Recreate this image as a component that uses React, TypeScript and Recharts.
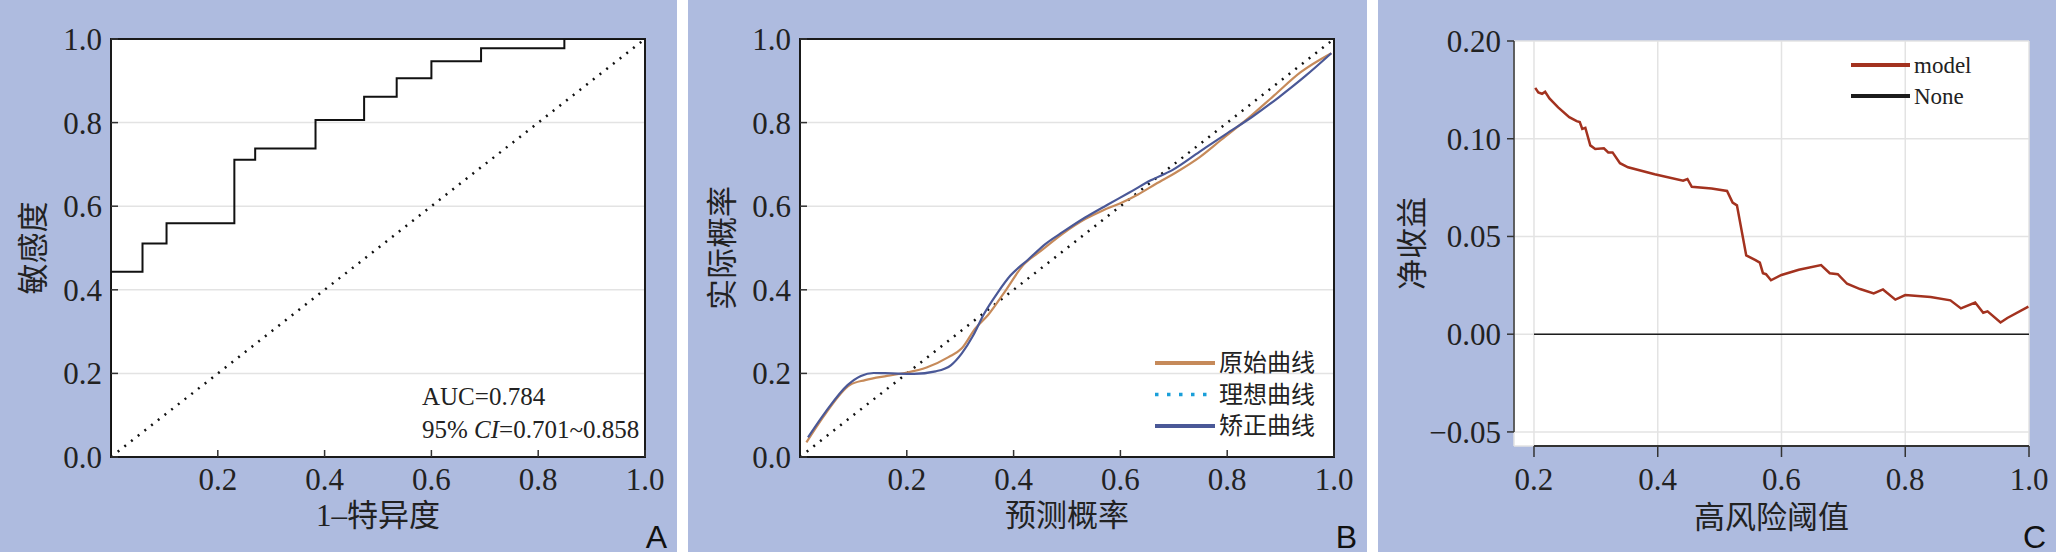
import React from "react";
import {
  CartesianGrid,
  Label,
  Legend,
  Line,
  LineChart,
  ReferenceArea,
  ReferenceLine,
  XAxis,
  YAxis,
} from "recharts";

const BG = "#aebbdf";
const GRID = "#e3e3e3";
const INK = "#222";
const SERIF = '"Liberation Serif", "Times New Roman", "Noto Sans CJK SC", serif';
const CJK = '"Liberation Serif", "Noto Sans CJK SC", sans-serif';
const SANS = '"Liberation Sans", Arial, sans-serif';

// A: ROC curve
const rocFpr = [0, 0, 0.059, 0.104, 0.231, 0.27, 0.383, 0.474, 0.535, 0.6, 0.693, 0.849, 1.0];
const rocTpr = [0, 0.443, 0.511, 0.559, 0.711, 0.738, 0.806, 0.862, 0.906, 0.947, 0.978, 1.0, 1.0];
const diagX = [0, 1];
const diagY = [0, 1];
const unitYTicks = [0, 0.2, 0.4, 0.6, 0.8, 1.0];
const unitXTicks = [0.2, 0.4, 0.6, 0.8, 1.0];

// B: calibration curves
const rawX = [0.012, 0.048, 0.093, 0.122, 0.163, 0.196, 0.237, 0.278, 0.303, 0.328, 0.353, 0.386, 0.418, 0.451, 0.493, 0.534, 0.567, 0.6, 0.633, 0.666, 0.707, 0.748, 0.789, 0.839, 0.888, 0.937, 0.995];
const rawY = [0.035, 0.104, 0.172, 0.184, 0.194, 0.201, 0.214, 0.239, 0.26, 0.307, 0.341, 0.4, 0.459, 0.493, 0.535, 0.569, 0.59, 0.607, 0.628, 0.653, 0.683, 0.717, 0.759, 0.81, 0.865, 0.92, 0.966];
const corrX = [0.015, 0.048, 0.089, 0.114, 0.138, 0.171, 0.213, 0.254, 0.283, 0.303, 0.324, 0.344, 0.369, 0.394, 0.427, 0.46, 0.493, 0.534, 0.575, 0.616, 0.657, 0.698, 0.748, 0.797, 0.847, 0.896, 0.946, 0.995];
const corrY = [0.047, 0.108, 0.172, 0.194, 0.201, 0.2, 0.199, 0.205, 0.22, 0.248, 0.29, 0.341, 0.391, 0.434, 0.472, 0.51, 0.539, 0.573, 0.603, 0.632, 0.662, 0.687, 0.73, 0.772, 0.814, 0.86, 0.911, 0.966];
const calLegend = ["原始曲线", "理想曲线", "矫正曲线"];
const calColors = ["#c68a5a", "#1a9fd9", "#4a5897"];

// C: decision curve
const dcaThreshold = [0.202, 0.207, 0.213, 0.218, 0.225, 0.239, 0.257, 0.269, 0.274, 0.278, 0.283, 0.291, 0.299, 0.313, 0.32, 0.327, 0.339, 0.352, 0.395, 0.441, 0.448, 0.455, 0.487, 0.512, 0.521, 0.528, 0.543, 0.558, 0.565, 0.57, 0.575, 0.583, 0.6, 0.628, 0.664, 0.678, 0.691, 0.706, 0.727, 0.749, 0.764, 0.784, 0.8, 0.841, 0.873, 0.89, 0.913, 0.926, 0.933, 0.954, 0.965, 0.999];
const dcaModel = [0.126, 0.1237, 0.123, 0.124, 0.1206, 0.116, 0.111, 0.109, 0.1085, 0.105, 0.1056, 0.0966, 0.0948, 0.0951, 0.093, 0.093, 0.0875, 0.0854, 0.0818, 0.0785, 0.0794, 0.0754, 0.0745, 0.0733, 0.0673, 0.0659, 0.0403, 0.0379, 0.0366, 0.0312, 0.0307, 0.0276, 0.0303, 0.033, 0.0354, 0.0312, 0.0307, 0.0258, 0.0231, 0.0209, 0.0229, 0.0177, 0.02, 0.019, 0.0173, 0.0132, 0.0162, 0.011, 0.0117, 0.006, 0.0083, 0.0141];
const dcaNoneX = [0.2, 1.0];
const dcaNoneY = [0, 0];
const dcaXTicks = [0.2, 0.4, 0.6, 0.8, 1.0];
const dcaYTicks = [-0.05, 0, 0.05, 0.1, 0.15];
const dcaYTickLabels = ["\u22120.05", "0.00", "0.05", "0.10", "0.20"];
const dcaXDomain = [0.1677, 1.0];
const dcaYDomain = [-0.0572, 0.15];
const dcaLegend = ["model", "None"];
const dcaColors = ["#a3321f", "#1c1c1c"];

const zip = (xs: number[], ys: number[]) => xs.map((x, i) => ({ x, y: ys[i] }));
const fmt1 = (v: number) => v.toFixed(1);

const tickStyle = { fill: INK, fontSize: 31, fontFamily: SERIF };
const tickLine = { stroke: "#333", strokeWidth: 1.5 };

const xTitle = (text: string, y: number) => (props: any) => {
  const vb = props.viewBox;
  return (
    <text x={vb.x + vb.width / 2} y={y} textAnchor="middle" dominantBaseline="central" fill={INK} style={{ fontFamily: CJK, fontSize: 31 }}>
      {text}
    </text>
  );
};

const yTitle = (text: string, x: number) => (props: any) => {
  const vb = props.viewBox;
  const cy = vb.y + vb.height / 2;
  return (
    <text x={x} y={cy} transform={`rotate(-90 ${x} ${cy})`} textAnchor="middle" dominantBaseline="central" fill={INK} style={{ fontFamily: CJK, fontSize: 31 }}>
      {text}
    </text>
  );
};

function Panel({ left, width, letter, children }: { left: number; width: number; letter: string; children: React.ReactNode }) {
  return (
    <div style={{ position: "absolute", left, top: 0, width, height: 552, background: BG }}>
      {children}
      <div style={{ position: "absolute", right: 10, top: 521, fontFamily: SANS, fontSize: 32, lineHeight: "32px", color: "#111" }}>{letter}</div>
    </div>
  );
}

function PanelA() {
  return (
    <Panel left={0} width={677} letter="A">
      <LineChart width={677} height={552} margin={{ top: 39, right: 32, bottom: 35, left: 31 }}>
        <CartesianGrid fill="#fff" stroke={GRID} strokeWidth={1.5} vertical={false} />
        <XAxis type="number" dataKey="x" domain={[0, 1]} ticks={unitXTicks} tickFormatter={fmt1} height={60} tickSize={-7} tickMargin={18} axisLine={false} tickLine={tickLine} tick={tickStyle} allowDataOverflow>
          <Label content={xTitle("1\u2013特异度", 515)} />
        </XAxis>
        <YAxis type="number" dataKey="y" domain={[0, 1]} ticks={unitYTicks} tickFormatter={fmt1} width={80} tickSize={-7} tickMargin={16} axisLine={false} tickLine={tickLine} tick={tickStyle} allowDataOverflow>
          <Label content={yTitle("敏感度", 33)} />
        </YAxis>
        <ReferenceArea x1={0} x2={1} y1={0} y2={1} fill="none" fillOpacity={0} stroke="#1a1a1a" strokeWidth={2} ifOverflow="visible" />
        <Line data={zip(diagX, diagY)} dataKey="y" type="linear" stroke="#111" strokeWidth={2.5} strokeDasharray="2 6.5" dot={false} isAnimationActive={false} />
        <Line data={zip(rocFpr, rocTpr)} dataKey="y" type="stepAfter" stroke="#111" strokeWidth={2} dot={false} isAnimationActive={false} />
      </LineChart>
      <div style={{ position: "absolute", left: 422, top: 380, fontFamily: SERIF, fontSize: 25, lineHeight: "33px", color: INK, whiteSpace: "nowrap" }}>
        <div>AUC=0.784</div>
        <div>
          95% <i>CI</i>=0.701~0.858
        </div>
      </div>
    </Panel>
  );
}

function CalLegend() {
  return (
    <svg width={180} height={100}>
      {calLegend.map((name, i) => {
        const y = 16 + i * 31.5;
        return (
          <g key={name}>
            <line x1={0} x2={60} y1={y} y2={y} stroke={calColors[i]} strokeWidth={i === 1 ? 3.5 : 4} strokeDasharray={i === 1 ? "3.5 8.5" : undefined} />
            <text x={64} y={y} dominantBaseline="central" fill={INK} style={{ fontFamily: CJK, fontSize: 24 }}>
              {name}
            </text>
          </g>
        );
      })}
    </svg>
  );
}

function PanelB() {
  return (
    <Panel left={688} width={679} letter="B">
      <LineChart width={679} height={552} margin={{ top: 39, right: 33, bottom: 35, left: 32 }}>
        <CartesianGrid fill="#fff" stroke={GRID} strokeWidth={1.5} vertical={false} />
        <XAxis type="number" dataKey="x" domain={[0, 1]} ticks={unitXTicks} tickFormatter={fmt1} height={60} tickSize={-7} tickMargin={18} axisLine={false} tickLine={tickLine} tick={tickStyle} allowDataOverflow>
          <Label content={xTitle("预测概率", 515)} />
        </XAxis>
        <YAxis type="number" dataKey="y" domain={[0, 1]} ticks={unitYTicks} tickFormatter={fmt1} width={80} tickSize={-7} tickMargin={16} axisLine={false} tickLine={tickLine} tick={tickStyle} allowDataOverflow>
          <Label content={yTitle("实际概率", 34)} />
        </YAxis>
        <ReferenceArea x1={0} x2={1} y1={0} y2={1} fill="none" fillOpacity={0} stroke="#1a1a1a" strokeWidth={2} ifOverflow="visible" />
        <Line data={zip(diagX, diagY)} dataKey="y" type="linear" stroke="#111" strokeWidth={2.5} strokeDasharray="2 6.5" dot={false} isAnimationActive={false} />
        <Line data={zip(rawX, rawY)} dataKey="y" type="monotone" stroke={calColors[0]} strokeWidth={2.2} dot={false} isAnimationActive={false} />
        <Line data={zip(corrX, corrY)} dataKey="y" type="monotone" stroke={calColors[2]} strokeWidth={2.2} dot={false} isAnimationActive={false} />
        <Legend content={CalLegend} layout="horizontal" verticalAlign="middle" align="center" wrapperStyle={{ position: "absolute", left: 467, top: 347, width: 180, height: 100 }} />
      </LineChart>
    </Panel>
  );
}

function DcaLegend() {
  return (
    <svg width={140} height={70}>
      {dcaLegend.map((name, i) => {
        const y = 14 + i * 31;
        return (
          <g key={name}>
            <line x1={0} x2={59} y1={y} y2={y} stroke={dcaColors[i]} strokeWidth={4} />
            <text x={63} y={y} dominantBaseline="central" fill={INK} style={{ fontFamily: SERIF, fontSize: 23 }}>
              {name}
            </text>
          </g>
        );
      })}
    </svg>
  );
}

function PanelC() {
  const yFmt = (v: number) => dcaYTickLabels[dcaYTicks.findIndex((t) => Math.abs(t - v) < 1e-9)] ?? "";
  return (
    <Panel left={1378} width={678} letter="C">
      <LineChart width={678} height={552} margin={{ top: 41, right: 27, bottom: 46, left: 56 }}>
        <CartesianGrid fill="#fff" stroke={GRID} strokeWidth={1.5} />
        <XAxis type="number" dataKey="x" domain={dcaXDomain} ticks={dcaXTicks} tickFormatter={fmt1} height={60} tickSize={11} tickMargin={11} axisLine={false} tickLine={tickLine} tick={tickStyle} allowDataOverflow>
          <Label content={xTitle("高风险阈值", 517)} />
        </XAxis>
        <YAxis type="number" dataKey="y" domain={dcaYDomain} ticks={dcaYTicks} tickFormatter={yFmt} width={80} tickSize={7} tickMargin={6} axisLine={false} tickLine={tickLine} tick={tickStyle} allowDataOverflow>
          <Label content={yTitle("净收益", 34)} />
        </YAxis>
        <ReferenceLine segment={[{ x: dcaXTicks[0], y: dcaYDomain[0] }, { x: dcaXTicks[dcaXTicks.length - 1], y: dcaYDomain[0] }]} stroke="#333" strokeWidth={2} ifOverflow="visible" />
        <ReferenceLine segment={[{ x: dcaXDomain[0], y: dcaYTicks[0] }, { x: dcaXDomain[0], y: dcaYTicks[dcaYTicks.length - 1] }]} stroke="#333" strokeWidth={1.5} ifOverflow="visible" />
        <Line data={zip(dcaNoneX, dcaNoneY)} dataKey="y" type="linear" stroke={dcaColors[1]} strokeWidth={1.6} dot={false} isAnimationActive={false} />
        <Line data={zip(dcaThreshold, dcaModel)} dataKey="y" type="linear" stroke={dcaColors[0]} strokeWidth={2.5} dot={false} isAnimationActive={false} />
        <Legend content={DcaLegend} layout="horizontal" verticalAlign="middle" align="center" wrapperStyle={{ position: "absolute", left: 473, top: 51, width: 140, height: 70 }} />
      </LineChart>
    </Panel>
  );
}

export default function App() {
  return (
    <div style={{ position: "absolute", left: 0, top: 0, width: 2056, height: 554, background: "#fff" }}>
      <PanelA />
      <PanelB />
      <PanelC />
    </div>
  );
}
